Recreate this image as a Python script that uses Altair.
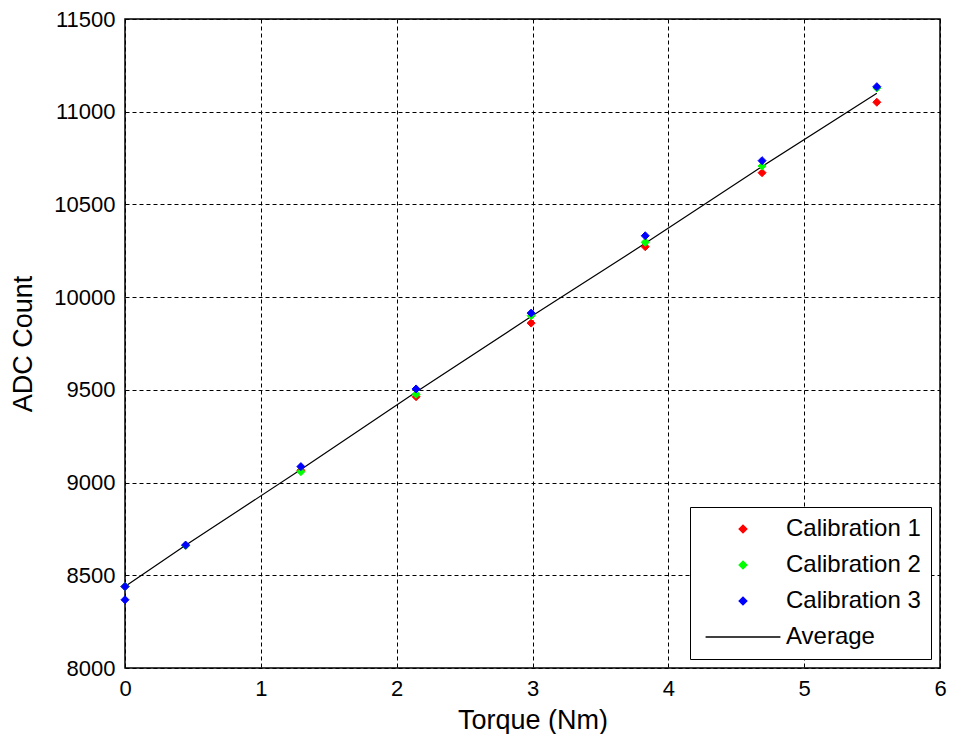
import altair as alt
import pandas as pd

# ---- data ----
torque = [0, 0.446, 1.295, 2.143, 2.99, 3.83, 4.69, 5.535]
cal1 = [8440, 8660, 9066, 9463, 9860, 10272, 10671, 11051]
cal2 = [8440, 8660, 9059, 9476, 9900, 10296, 10707, 11128]
torque3 = [0, 0.446, 1.295, 2.143, 2.99, 3.83, 4.69, 5.535, 0]
cal3 = [8439, 8663, 9086, 9505, 9914, 10331, 10736, 11135, 8368]
avg = [8439, 8662, 9070, 9488, 9895, 10290, 10705, 11099]

series = ["Calibration 1", "Calibration 2", "Calibration 3", "Average"]
colors = ["#ff0000", "#00ff00", "#0000ff", "#000000"]
shapes = ["diamond", "diamond", "diamond", "M-10,0H10"]
x_ticks = [0, 1, 2, 3, 4, 5, 6]
y_ticks = [8000, 8500, 9000, 9500, 10000, 10500, 11000, 11500]

rows = []
for name, xs, ys in [(series[0], torque, cal1), (series[1], torque, cal2), (series[2], torque3, cal3)]:
    for xv, yv in zip(xs, ys):
        rows.append({"Torque": xv, "ADC": yv, "Series": name})
pts = pd.DataFrame(rows)
line_df = pd.DataFrame({"Torque": torque, "ADC": avg, "Series": [series[3]] * len(torque)})

FONT = "Liberation Sans"

legend = alt.Legend(
    title=None, orient="none", legendX=565, legendY=488,
    fillColor="white", strokeColor="black", padding=10,
    labelFontSize=24, labelFont=FONT, labelColor="black",
    labelOffset=31, symbolOffset=31, rowPadding=12, symbolSize=56,
    symbolStrokeWidth=1.5, symbolOpacity=1, labelLimit=400, cornerRadius=0,
)

x_enc = alt.X("Torque:Q", scale=alt.Scale(domain=[0, 6], nice=False),
              axis=alt.Axis(values=x_ticks, title="Torque (Nm)", format="d",
                            labelFlush=False, labelPadding=10, titlePadding=8))
y_enc = alt.Y("ADC:Q", scale=alt.Scale(domain=[8000, 11500], nice=False, zero=False),
              axis=alt.Axis(values=y_ticks, title="ADC Count", format="d",
                            labelFlush=False, labelPadding=10, titlePadding=16))

sdom = alt.Scale(domain=series, range=colors)

points = alt.Chart(pts).mark_point(filled=True, opacity=1, strokeWidth=1, size=64).encode(
    x=x_enc, y=y_enc,
    fill=alt.Fill("Series:N", scale=sdom, legend=legend),
    stroke=alt.Stroke("Series:N", scale=sdom, legend=legend),
    shape=alt.Shape("Series:N", scale=alt.Scale(domain=series, range=shapes), legend=legend),
    order=alt.Order("Series:N", sort="ascending"),
)

avg_line = alt.Chart(line_df).mark_line(strokeWidth=1.2).encode(
    x=x_enc, y=y_enc,
    stroke=alt.Stroke("Series:N", scale=sdom, legend=legend),
)

chart = alt.layer(avg_line, points).properties(
    width=815, height=649,
    autosize=alt.AutoSizeParams(type="none"),
    padding={"left": 117, "top": 11, "right": 7, "bottom": 66},
    background="white",
).configure_view(
    stroke="black", strokeWidth=1.5, fill="white"
).configure_axis(
    grid=True, gridColor="black", gridDash=[4, 3], gridOpacity=1, gridWidth=1,
    ticks=False, domain=False,
    labelFont=FONT, labelFontSize=22, labelColor="black",
    titleFont=FONT, titleFontSize=27, titleColor="black", titleFontWeight="normal",
)

chart.save("out.html", embed_options={"renderer": "svg", "actions": False})
